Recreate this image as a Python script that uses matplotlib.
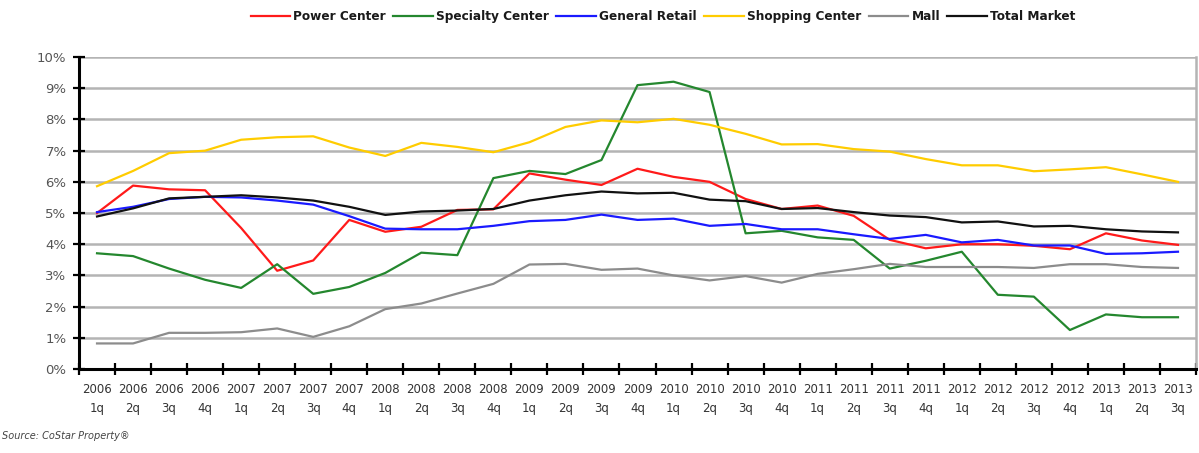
import matplotlib
matplotlib.use("Agg")
import matplotlib.pyplot as plt
import numpy as np

# quarters 2006 1q .. 2013 3q
years = ['2006'] * 4 + ['2007'] * 4 + ['2008'] * 4 + ['2009'] * 4 + ['2010'] * 4 + \
        ['2011'] * 4 + ['2012'] * 4 + ['2013'] * 3
quarters = (['1q', '2q', '3q', '4q'] * 8)[:31]
tick_labels = [f'{y}\n{q}' for y, q in zip(years, quarters)]

# vacancy rates (%)
power_center = [5.0, 5.88, 5.76, 5.73, 4.52, 3.15, 3.48, 4.78, 4.4, 4.56, 5.1,
                5.12, 6.27, 6.07, 5.9, 6.42, 6.16, 6.0, 5.45, 5.13, 5.24,
                4.91, 4.14, 3.87, 4.0, 4.0, 3.95, 3.84, 4.35, 4.12, 3.98]
specialty_center = [3.71, 3.62, 3.22, 2.86, 2.6, 3.36, 2.41, 2.63, 3.08, 3.73, 3.65,
                    6.12, 6.35, 6.25, 6.7, 9.1, 9.21, 8.88, 4.35, 4.43, 4.22,
                    4.14, 3.22, 3.47, 3.76, 2.38, 2.32, 1.25, 1.75, 1.66, 1.66]
general_retail = [5.03, 5.2, 5.45, 5.52, 5.5, 5.4, 5.27, 4.9, 4.5, 4.48, 4.48,
                  4.59, 4.74, 4.78, 4.95, 4.78, 4.82, 4.59, 4.65, 4.48, 4.48,
                  4.32, 4.17, 4.3, 4.06, 4.14, 3.96, 3.96, 3.69, 3.71, 3.76]
shopping_center = [5.86, 6.35, 6.92, 7.0, 7.35, 7.43, 7.46, 7.1, 6.83, 7.25, 7.12,
                   6.95, 7.27, 7.76, 7.97, 7.91, 8.02, 7.83, 7.54, 7.2, 7.21,
                   7.05, 6.97, 6.73, 6.53, 6.53, 6.34, 6.4, 6.47, 6.24, 6.0]
mall = [0.82, 0.82, 1.16, 1.16, 1.18, 1.3, 1.03, 1.37, 1.92, 2.1, 2.42,
        2.73, 3.35, 3.37, 3.18, 3.22, 3.0, 2.84, 2.98, 2.77, 3.05,
        3.2, 3.37, 3.27, 3.27, 3.27, 3.24, 3.36, 3.36, 3.27, 3.24]
total_market = [4.89, 5.15, 5.47, 5.52, 5.57, 5.5, 5.4, 5.2, 4.94, 5.05, 5.08,
                5.13, 5.4, 5.57, 5.69, 5.63, 5.65, 5.43, 5.38, 5.13, 5.16,
                5.03, 4.92, 4.87, 4.7, 4.73, 4.57, 4.59, 4.48, 4.41, 4.38]

fig = plt.figure(figsize=(11.99, 4.53), dpi=100)
ax = fig.add_axes([0.0659, 0.1854, 0.9316, 0.6886])

x = np.arange(len(tick_labels))
series = [
    ('Power Center', power_center, '#ff1a1a'),
    ('Specialty Center', specialty_center, '#24872e'),
    ('General Retail', general_retail, '#1a1aff'),
    ('Shopping Center', shopping_center, '#ffcc00'),
    ('Mall', mall, '#8c8c8c'),
    ('Total Market', total_market, '#111111'),
]
for name, vals, col in series:
    ax.plot(x, vals, color=col, lw=1.6, label=name, zorder=3)

ax.set_xlim(-0.5, len(x) - 0.5)
ax.set_ylim(0, 10)

# gridlines
ax.set_yticks(np.arange(0, 11, 1))
ax.set_yticklabels([f'{v}%' for v in range(11)], color='#555555', fontsize=9.5)
ax.yaxis.grid(True, color='#b4b4b4', lw=1.8, zorder=0)
ax.set_axisbelow(True)

# x ticks at category boundaries, labels at centres
ax.set_xticks(np.arange(-0.5, len(x), 1))
ax.set_xticklabels([])
ax.set_xticks(x, minor=True)
ax.set_xticklabels(tick_labels, minor=True, fontsize=8.5, color='#333333',
                   linespacing=1.6)
ax.tick_params(axis='x', which='minor', length=0, pad=10)
ax.tick_params(axis='x', which='major', direction='inout', length=9, width=1.6)
ax.tick_params(axis='y', direction='inout', length=8, width=1.6, pad=5)

for s in ['left', 'bottom']:
    ax.spines[s].set_linewidth(2.2)
    ax.spines[s].set_color('black')
ax.spines['top'].set_visible(False)
ax.spines['right'].set_color('#b4b4b4')
ax.spines['right'].set_linewidth(1.8)

leg = fig.legend(loc='center', bbox_to_anchor=(0.553, 0.963), ncol=6, frameon=False,
                 prop={'weight': 'bold', 'size': 8.7}, handlelength=3.3,
                 handletextpad=0.25, columnspacing=0.6)
for t in leg.get_texts():
    t.set_color('#1a1a1a')

fig.text(0.002, 0.03, 'Source: CoStar Property®', fontsize=7, style='italic',
         color='#444444')

fig.savefig('out.png', dpi=100, facecolor='white')
